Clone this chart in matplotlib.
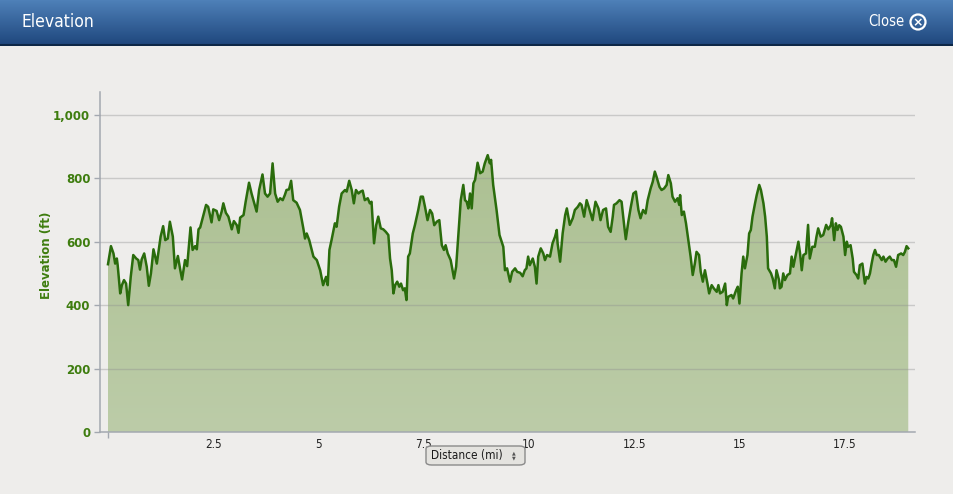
import matplotlib
matplotlib.use("Agg")
import matplotlib.pyplot as plt
import numpy as np
from matplotlib.patches import FancyBboxPatch, Circle
from matplotlib.ticker import FuncFormatter

# distance (mi) / elevation (ft)
dist = [0.00, 0.07, 0.13, 0.17, 0.21, 0.23, 0.29, 0.33, 0.38, 0.43, 0.48, 0.54, 0.60, 0.67,
        0.72, 0.76, 0.80, 0.86, 0.92, 0.97, 1.02, 1.08, 1.16, 1.25, 1.31, 1.36, 1.42, 1.47,
        1.54, 1.59, 1.66, 1.71, 1.76, 1.83, 1.88, 1.96, 2.01, 2.07, 2.11, 2.15, 2.19, 2.33,
        2.38, 2.46, 2.50, 2.58, 2.64, 2.70, 2.74, 2.80, 2.86, 2.94, 2.99, 3.06, 3.10, 3.14,
        3.22, 3.27, 3.35, 3.41, 3.48, 3.53, 3.59, 3.67, 3.73, 3.79, 3.85, 3.91, 3.97, 4.03,
        4.09, 4.15, 4.20, 4.24, 4.30, 4.35, 4.40, 4.48, 4.56, 4.64, 4.68, 4.72, 4.78, 4.84,
        4.88, 4.96, 5.04, 5.11, 5.18, 5.22, 5.26, 5.31, 5.39, 5.43, 5.49, 5.55, 5.63, 5.67,
        5.73, 5.79, 5.84, 5.89, 5.95, 6.00, 6.05, 6.10, 6.17, 6.22, 6.26, 6.32, 6.37, 6.42,
        6.48, 6.54, 6.60, 6.66, 6.70, 6.74, 6.78, 6.82, 6.87, 6.92, 6.96, 7.01, 7.05, 7.09,
        7.13, 7.17, 7.24, 7.29, 7.37, 7.43, 7.48, 7.53, 7.59, 7.65, 7.70, 7.75, 7.81, 7.87,
        7.93, 7.98, 8.02, 8.07, 8.14, 8.22, 8.27, 8.32, 8.38, 8.44, 8.48, 8.52, 8.56, 8.60,
        8.64, 8.68, 8.72, 8.78, 8.84, 8.90, 8.95, 9.02, 9.07, 9.10, 9.15, 9.23, 9.30, 9.35,
        9.39, 9.43, 9.48, 9.55, 9.60, 9.67, 9.72, 9.79, 9.85, 9.90, 9.94, 9.98, 10.02, 10.09,
        10.14, 10.18, 10.22, 10.28, 10.34, 10.38, 10.43, 10.50, 10.56, 10.62, 10.66, 10.68,
        10.74, 10.80, 10.86, 10.90, 10.97, 11.04, 11.09, 11.16, 11.21, 11.25, 11.31, 11.37,
        11.43, 11.51, 11.58, 11.65, 11.70, 11.76, 11.83, 11.88, 11.94, 11.99, 12.02, 12.08,
        12.15, 12.20, 12.26, 12.30, 12.36, 12.42, 12.48, 12.54, 12.60, 12.65, 12.71, 12.77,
        12.82, 12.89, 12.94, 12.99, 13.03, 13.10, 13.15, 13.21, 13.27, 13.31, 13.37, 13.41,
        13.47, 13.53, 13.57, 13.59, 13.63, 13.68, 13.73, 13.78, 13.84, 13.89, 13.94, 13.98,
        14.04, 14.08, 14.13, 14.18, 14.24, 14.28, 14.34, 14.39, 14.46, 14.50, 14.54, 14.60,
        14.66, 14.70, 14.73, 14.81, 14.85, 14.92, 14.96, 15.00, 15.05, 15.09, 15.13, 15.19,
        15.23, 15.27, 15.31, 15.37, 15.41, 15.47, 15.51, 15.57, 15.61, 15.65, 15.68, 15.75,
        15.79, 15.84, 15.88, 15.94, 15.96, 16.00, 16.04, 16.08, 16.14, 16.20, 16.24, 16.28,
        16.32, 16.36, 16.40, 16.44, 16.48, 16.52, 16.58, 16.63, 16.67, 16.73, 16.79, 16.83,
        16.87, 16.93, 16.99, 17.06, 17.11, 17.17, 17.20, 17.25, 17.29, 17.33, 17.37, 17.41,
        17.47, 17.51, 17.55, 17.58, 17.64, 17.69, 17.72, 17.78, 17.82, 17.86, 17.92, 17.98,
        18.02, 18.06, 18.10, 18.14, 18.18, 18.22, 18.26, 18.31, 18.38, 18.42, 18.47, 18.52,
        18.57, 18.62, 18.67, 18.72, 18.77, 18.84, 18.89, 18.93, 18.97, 19.01]
elev = [529, 586, 563, 531, 547, 526, 437, 463, 479, 468, 400, 489, 558, 547,
        542, 512, 544, 563, 521, 461, 500, 576, 531, 616, 649, 605, 610, 663,
        616, 516, 555, 516, 481, 542, 523, 645, 574, 586, 576, 639, 645, 716,
        710, 661, 702, 697, 668, 695, 721, 691, 679, 639, 665, 652, 628, 676,
        684, 726, 786, 752, 718, 695, 763, 812, 752, 742, 752, 847, 752, 726,
        737, 731, 747, 763, 765, 792, 731, 723, 700, 642, 610, 626, 605, 574,
        553, 542, 510, 463, 489, 463, 574, 605, 658, 647, 710, 752, 763, 758,
        792, 763, 721, 763, 752, 758, 761, 731, 737, 721, 726, 595, 652, 679,
        642, 639, 631, 621, 547, 510, 437, 463, 474, 458, 468, 447, 453, 416,
        553, 563, 626, 652, 700, 742, 742, 710, 668, 700, 689, 652, 663, 668,
        589, 574, 589, 563, 542, 484, 521, 616, 731, 779, 731, 726, 705, 752,
        705, 784, 795, 849, 816, 821, 847, 873, 847, 858, 779, 700, 621, 600,
        584, 510, 516, 474, 505, 516, 505, 502, 491, 510, 516, 553, 526, 547,
        521, 468, 553, 579, 563, 542, 558, 553, 595, 616, 637, 595,
        537, 626, 684, 705, 653, 674, 700, 710, 721, 716, 679, 731,
        705, 668, 726, 705, 668, 700, 705, 647, 631, 679, 716, 721,
        731, 726, 653, 608, 663, 710, 752, 758, 700, 674, 700, 689,
        731, 768, 789, 821, 805, 773, 763, 768, 779, 810, 784, 742,
        726, 737, 716, 747, 684, 695, 658, 610, 553, 495, 531, 568,
        558, 505, 474, 510, 468, 437, 463, 453, 442, 463, 437, 442,
        468, 400, 426, 432, 421, 447, 458, 405, 500, 553, 516, 558,
        626, 637, 679, 721, 747, 779, 763, 721, 679, 616, 516, 500,
        484, 453, 510, 479, 453, 458, 500, 479, 495, 500, 553, 521,
        547, 574, 600, 563, 510, 558, 563, 653, 547, 584, 584, 616,
        642, 616, 621, 653, 639, 652, 674, 605, 658, 637, 652, 647,
        616, 558, 600, 584, 589, 547, 505, 495, 484, 526, 531, 468,
        489, 484, 500, 531, 558, 574, 558, 558, 542, 553, 537, 547,
        553, 542, 542, 521, 558, 563, 558, 568, 586, 579]

x_ticks = [2.5, 5, 7.5, 10, 12.5, 15, 17.5]
y_ticks = [0, 200, 400, 600, 800, 1000]

BG = "#eeedeb"
GREEN_TXT = "#3e7d0f"
LINE = "#2a6c0c"

fig = plt.figure(figsize=(9.54, 4.94), dpi=100, facecolor=BG)

# ---- header bar ----
hdr = fig.add_axes([0, 1 - 46 / 494, 1, 46 / 494])
grad = np.linspace(0, 1, 46)[:, None]
top = np.array([0x4e, 0x80, 0xb8]) / 255
bot = np.array([0x1e, 0x46, 0x7c]) / 255
img = top[None, None, :] * (1 - grad[..., None]) + bot[None, None, :] * grad[..., None]
img = np.repeat(img, 2, axis=1)
hdr.imshow(img, extent=[0, 954, 46, 0], aspect="auto")
hdr.set_xlim(0, 954); hdr.set_ylim(46, 0)
hdr.axhline(45, color="#0d2747", lw=1.5)
hdr.axis("off")
hdr.text(22, 22, "Elevation", color="white", fontsize=12.5, va="center", ha="left",
         fontstretch="condensed")
hdr.text(905, 22, "Close", color="white", fontsize=10.5, va="center", ha="right",
         fontstretch="condensed")
hdr.add_patch(Circle((918, 22), 7.5, fill=False, ec="white", lw=1.6))
hdr.text(918, 22.5, "×", color="white", fontsize=9, va="center", ha="center",
         fontweight="bold")

# ---- elevation chart ----
ax = fig.add_axes([100 / 954, 1 - 432 / 494, 815 / 954, 340 / 494])
ax.set_facecolor(BG)

poly = ax.fill_between(dist, elev, 0, color="none", lw=0)
ftop = np.array([0xac, 0xc0, 0x92]) / 255
fbot = np.array([0xbc, 0xcc, 0xa8]) / 255
g = np.linspace(0, 1, 200)[:, None, None]
fimg = ftop * (1 - g) + fbot * g
fimg = np.repeat(fimg, 2, axis=1)
im = ax.imshow(fimg, extent=[0, 19.01, 0, 900], aspect="auto", zorder=1,
               interpolation="bilinear")
im.set_clip_path(poly.get_paths()[0], transform=ax.transData)
ax.set_xlim(-0.19, 19.17)
ax.set_ylim(0, 1072)

for yv in y_ticks[1:]:
    ax.axhline(yv, color="#8f8f8f", lw=1, alpha=0.38, zorder=2)
ax.plot(dist, elev, color=LINE, lw=1.8, zorder=3, solid_joinstyle="round")

for s in ["top", "right"]:
    ax.spines[s].set_visible(False)
ax.spines["left"].set_color("#a3a8b0")
ax.spines["bottom"].set_color("#a3a8b0")
ax.spines["left"].set_linewidth(1.1)
ax.spines["bottom"].set_linewidth(1.1)

ax.set_yticks(y_ticks)
ax.yaxis.set_major_formatter(FuncFormatter(lambda v, p: f"{int(v):,}"))
ax.tick_params(axis="y", length=4, width=1, color="#a3a8b0", labelcolor=GREEN_TXT,
               labelsize=8.5, pad=3)
for lab in ax.get_yticklabels():
    lab.set_fontweight("bold")
ax.set_xticks(x_ticks)
ax.set_xticklabels([f"{v:g}" for v in x_ticks])
ax.set_xticks([0], minor=True)
ax.tick_params(axis="x", which="major", length=0, labelsize=8.5, labelcolor="#222222",
               pad=4)
ax.tick_params(axis="x", which="minor", length=4, width=1, color="#a3a8b0")
for lab in ax.get_xticklabels():
    lab.set_fontstretch("condensed")
ax.set_ylabel("Elevation (ft)", color=GREEN_TXT, fontsize=8.5, fontweight="bold")
ax.yaxis.set_label_coords(-47 / 815, 0.52)

# ---- distance selector ----
box = FancyBboxPatch((426 / 954, 1 - 465 / 494), 99 / 954, 19 / 494,
                     boxstyle="round,pad=0,rounding_size=0.006",
                     transform=fig.transFigure, fc="#e4e3df", ec="#8a8a8a", lw=1)
fig.patches.append(box)
fig.text(467 / 954, 1 - 455.5 / 494, "Distance (mi)", fontsize=8.5, color="#1a1a1a",
         ha="center", va="center", fontstretch="condensed")
fig.text(514 / 954, 1 - 453 / 494, "▲", fontsize=3.5, color="#555555",
         ha="center", va="center")
fig.text(514 / 954, 1 - 458 / 494, "▼", fontsize=3.5, color="#555555",
         ha="center", va="center")

fig.savefig("out.png", dpi=100, facecolor=BG)
